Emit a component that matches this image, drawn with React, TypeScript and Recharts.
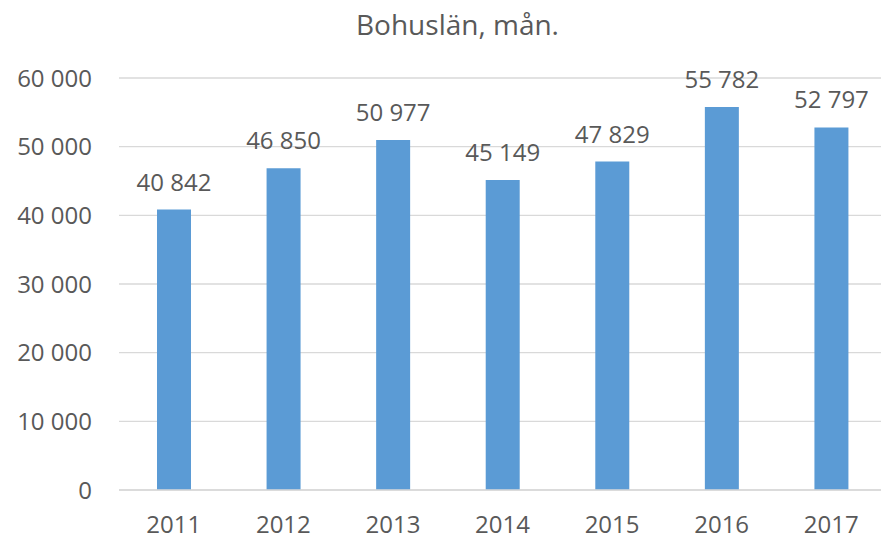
import {BarChart, Bar, XAxis, YAxis, CartesianGrid, LabelList} from 'recharts';

const years = ['2011', '2012', '2013', '2014', '2015', '2016', '2017'];
const nights = [40842, 46850, 50977, 45149, 47829, 55782, 52797];
const yTicks = [0, 10000, 20000, 30000, 40000, 50000, 60000];

const data = years.map((year, i) => ({year, value: nights[i]}));

const fmt = (v: number) => String(v).replace(/\B(?=(\d{3})+(?!\d))/g, ' ');

const font = '"Open Sans", sans-serif';
const textColor = '#595959';

const renderLabel = (props: any) => {
	const {x, y, width, value} = props;
	return (
		<text
			x={Number(x) + Number(width) / 2}
			y={Number(y) - 19}
			textAnchor="middle"
			fill={textColor}
			fontSize={24}
			fontFamily={font}
		>
			{fmt(Number(value))}
		</text>
	);
};

const renderYear = (props: any) => {
	const {x, y, payload} = props;
	return (
		<text x={x} y={Number(y) + 16} textAnchor="middle" fill={textColor} fontSize={24} fontFamily={font}>
			{payload.value}
		</text>
	);
};

export default function App() {
	return (
		<div style={{position: 'relative', width: 881, height: 537, fontFamily: font}}>
			<style>{'html,body{margin:0;padding:0;overflow:hidden}'}</style>
			<div
				style={{
					position: 'absolute',
					top: 10,
					left: 0,
					width: 881,
					paddingLeft: 34,
					boxSizing: 'border-box',
					textAlign: 'center',
					fontSize: 28,
					lineHeight: '28px',
					color: textColor,
				}}
			>
				Bohuslän, mån.
			</div>
			<BarChart
				width={881}
				height={537}
				data={data}
				margin={{top: 78, right: -5, left: 0, bottom: 17}}
			>
				<CartesianGrid vertical={false} stroke="#d9d9d9" strokeWidth={1.3} />
				<XAxis
					dataKey="year"
					height={30}
					axisLine={{stroke: '#d9d9d9', strokeWidth: 1.3}}
					tickLine={false}
					tickSize={0}
					tickMargin={27}
					tick={renderYear}
				/>
				<YAxis
					width={119}
					domain={[0, 60000]}
					ticks={yTicks}
					tickFormatter={fmt}
					axisLine={false}
					tickLine={false}
					tickSize={0}
					tickMargin={27}
					tick={{fill: textColor, fontSize: 24, fontFamily: font}}
				/>
				<Bar dataKey="value" fill="#5b9bd5" barSize={34} isAnimationActive={false}>
					<LabelList dataKey="value" content={renderLabel} />
				</Bar>
			</BarChart>
		</div>
	);
}
